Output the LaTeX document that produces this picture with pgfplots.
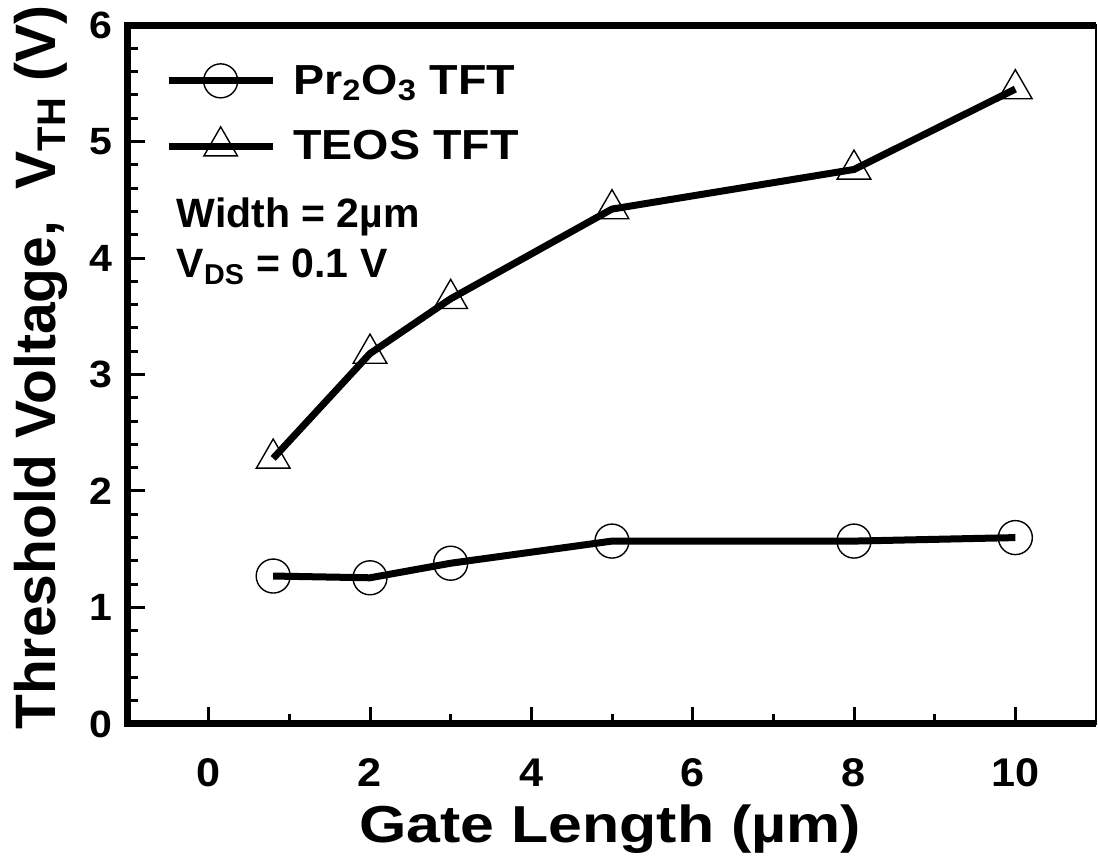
\documentclass[border=0pt]{standalone}
\usepackage{fontspec}
\setmainfont{Liberation Sans}
\newfontfamily\wide{Liberation Sans}[FakeStretch=1.17]
\newfontfamily\widel{Liberation Sans}[FakeStretch=1.11]
\newfontfamily\widet{Liberation Sans}[FakeStretch=1.08]
\usepackage{pgfplots}
\pgfplotsset{compat=1.18}
\usetikzlibrary{calc}
\begin{document}
\begin{tikzpicture}
\begin{axis}[
  name=ax,
  scale only axis,
  width=484pt, height=349.5pt,
  xmin=-1, xmax=11, ymin=0, ymax=6,
  xtick={0,2,4,6,8,10},
  minor x tick num=1,
  ytick={0,1,2,3,4,5,6},
  minor y tick num=4,
  tick align=inside,
  xtick pos=bottom, ytick pos=left,
  major tick length=8.5pt, minor tick length=5pt,
  every tick/.style={line width=1.5pt, black},
  axis line style={line width=0.8pt},
  /pgf/number format/assume math mode=true,
  xticklabel style={font=\widet\bfseries\fontsize{20}{22}\selectfont, anchor=base, yshift=-31.5pt},
  yticklabel style={font=\widet\bfseries\fontsize{19}{22}\selectfont, anchor=east, xshift=-4.2pt},
  xlabel={Gate Length (µm)},
  ylabel={Threshold Voltage,\ \ V\textsubscript{TH} (V)},
  xlabel style={font=\wide\bfseries\fontsize{26}{30}\selectfont, at={(axis description cs:0.498,-0.170)}, anchor=base},
  ylabel style={font=\bfseries\fontsize{28.5}{30}\selectfont, at={(axis description cs:-0.0754,0.51)}, anchor=base},
  legend cell align=left,
  legend style={draw=none, fill=none, at={(axis description cs:0.038,0.945)}, anchor=north west,
    font=\widel\bfseries\fontsize{21}{24}\selectfont, row sep=14.5pt, inner sep=0pt,
    nodes={inner sep=0pt, inner xsep=8.5pt}},
  legend image code/.code={\draw[mark repeat=2,mark phase=2,#1] plot coordinates {(0pt,0pt)(26pt,0pt)(52pt,0pt)};},
  clip=false,
]
\addplot[black, line width=3.5pt, mark=o, mark size=8.5pt,
  mark options={solid, fill=white, line width=0.7pt}]
  coordinates {(0.8,1.27) (2,1.255) (3,1.38) (5,1.57) (8,1.57) (10,1.60)};
\addlegendentry{Pr\textsubscript{2}O\textsubscript{3} TFT}
\addplot[black, line width=3.5pt, mark=triangle, mark size=9.7pt,
  mark options={solid, fill=white, line width=0.7pt}]
  coordinates {(0.8,2.28) (2,3.18) (3,3.65) (5,4.42) (8,4.76) (10,5.45)};
\addlegendentry{TEOS TFT}
\node[anchor=base west, font=\bfseries\fontsize{20.5}{24}\selectfont, inner sep=0pt] at (axis cs:-0.40,4.26) {Width = 2µm};
\node[anchor=base west, font=\bfseries\fontsize{20.5}{24}\selectfont, inner sep=0pt] at (axis cs:-0.40,3.83) {V\textsubscript{DS} = 0.1 V};
\draw[line width=3.5pt, line join=miter] (rel axis cs:1,0) -- (rel axis cs:0,0) -- (rel axis cs:0,1) -- (rel axis cs:1,1);
\end{axis}
\pgfresetboundingbox
\path ($(ax.south west)+(-64pt,-68.5pt)$) rectangle ($(ax.north east)+(1pt,12.5pt)$);
\end{tikzpicture}
\end{document}
